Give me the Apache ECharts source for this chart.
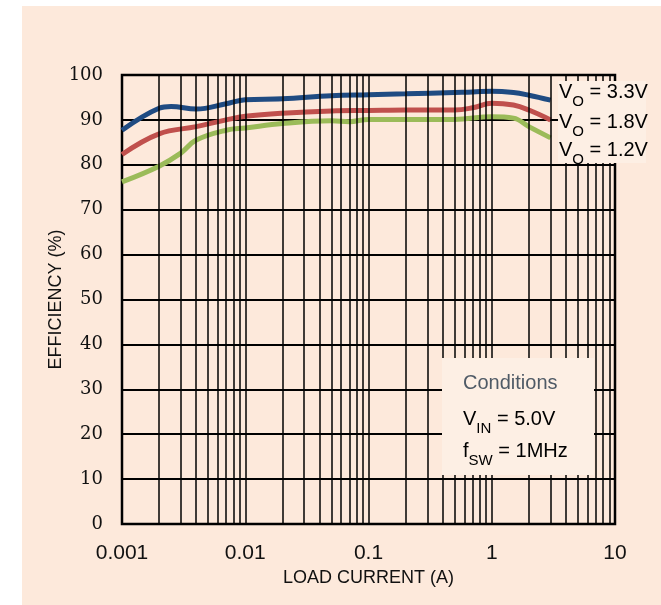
<!DOCTYPE html>
<html>
<head>
<meta charset="utf-8">
<script src="https://cdn.jsdelivr.net/npm/echarts@6/dist/echarts.min.js"></script>
<style>
  html, body { margin: 0; padding: 0; background: #fff; }
  #chart { width: 661px; height: 605px; }
</style>
</head>
<body>
<div id="chart"></div>
<script>
// 读图得到的数据 (负载电流 A / 效率 %)
var current33 = [0.001, 0.002, 0.0025, 0.004, 0.007, 0.01, 0.02, 0.05, 0.1, 0.2, 0.5, 0.7, 1, 1.5, 2, 3];
var eff33     = [87.7, 92.6, 93.0, 92.4, 93.6, 94.5, 94.7, 95.4, 95.6, 95.8, 96.1, 96.2, 96.4, 96.1, 95.5, 94.4];
var current18 = [0.001, 0.002, 0.004, 0.007, 0.01, 0.02, 0.05, 0.1, 0.2, 0.5, 0.7, 1, 1.5, 2, 3];
var eff18     = [82.3, 86.9, 88.5, 90.0, 90.8, 91.5, 92.0, 92.1, 92.2, 92.2, 92.7, 93.7, 93.3, 92.2, 90.0];
var current12 = [0.001, 0.002, 0.003, 0.004, 0.007, 0.01, 0.02, 0.05, 0.07, 0.1, 0.5, 1, 1.5, 2, 3];
var eff12     = [76.2, 79.7, 82.6, 85.5, 87.7, 88.2, 89.2, 89.8, 89.6, 90.1, 90.1, 90.7, 90.4, 88.5, 86.0];

var xTickLabels = ['0.001', '0.01', '0.1', '1', '10'];
var xGridLines = [];
[0.001, 0.01, 0.1, 1].forEach(function (d) {
  for (var k = 2; k <= 10; k++) {
    if (d * k < 10) xGridLines.push(+(d * k).toPrecision(3));
  }
});

function pairs(xs, ys) {
  return xs.map(function (x, i) { return [x, ys[i]]; });
}

var chart = echarts.init(document.getElementById('chart'));

var sansFont = 'Liberation Sans';
var noteColor = '#4f5a66';
var richV = {
  m: { fontSize: 20, fontFamily: sansFont, color: noteColor, lineHeight: 34, verticalAlign: 'middle' },
  s: { fontSize: 15, fontFamily: sansFont, color: noteColor, lineHeight: 16, verticalAlign: 'bottom' }
};

var option = {
  backgroundColor: '#ffffff',
  animation: false,
  grid: {
    left: 122, top: 75, width: 493, height: 449,
    show: true, borderColor: '#000', borderWidth: 2.5, backgroundColor: 'transparent'
  },
  xAxis: {
    type: 'log', logBase: 10, min: 0.001, max: 10,
    name: 'LOAD CURRENT (A)', nameLocation: 'middle', nameGap: 45,
    nameTextStyle: { fontFamily: sansFont, fontSize: 18, color: '#111' },
    axisLine: { show: false }, axisTick: { show: false },
    splitLine: { show: false },
    axisLabel: {
      margin: 19, fontFamily: sansFont, fontSize: 21, color: '#111',
      formatter: function (v, i) { return xTickLabels[i]; }
    }
  },
  yAxis: {
    type: 'value', min: 0, max: 100, interval: 10,
    name: 'EFFICIENCY (%)', nameLocation: 'middle', nameGap: 57, nameMoveOverlap: false,
    nameTextStyle: { fontFamily: sansFont, fontSize: 18, color: '#111' },
    axisLine: { show: false }, axisTick: { show: false },
    splitLine: { show: true, lineStyle: { color: '#000', width: 2 } },
    axisLabel: { margin: 19, fontFamily: 'DejaVu Serif', fontSize: 18, color: '#111' }
  },
  graphic: [
    { type: 'rect', z: -10, shape: { x: 22, y: 6, width: 639, height: 599 }, style: { fill: '#fde9db' } },
    { type: 'rect', z: 10, shape: { x: 558, y: 81, width: 88, height: 82 }, style: { fill: '#fdefe4' } },
    { type: 'text', z: 11, x: 559, y: 75, style: { text: '{m|V}{s|O}{m| = 3.3V}', rich: richV } },
    { type: 'text', z: 11, x: 559, y: 105, style: { text: '{m|V}{s|O}{m| = 1.8V}', rich: richV } },
    { type: 'text', z: 11, x: 559, y: 133, style: { text: '{m|V}{s|O}{m| = 1.2V}', rich: richV } },
    { type: 'rect', z: 10, shape: { x: 442, y: 358, width: 152, height: 117 }, style: { fill: '#fdefe4' } },
    { type: 'text', z: 11, x: 463, y: 373, style: { text: 'Conditions', fontSize: 20, fontFamily: sansFont, fill: noteColor } },
    { type: 'text', z: 11, x: 463, y: 402, style: { text: '{m|V}{s|IN}{m| = 5.0V}', rich: richV } },
    { type: 'text', z: 11, x: 463, y: 434, style: { text: '{m|f}{s|SW}{m| = 1MHz}', rich: richV } }
  ],
  series: [
    {
      name: 'grid', type: 'line', data: [], z: 1, silent: true,
      markLine: {
        silent: true, symbol: 'none', animation: false, precision: 6,
        label: { show: false },
        lineStyle: { color: '#000', width: 1.5, type: 'solid' },
        data: xGridLines.map(function (v) { return { xAxis: v }; })
      }
    },
    {
      name: 'VO = 3.3V', type: 'line', z: 3, smooth: 0.4, showSymbol: false,
      lineStyle: { color: '#1f4b82', width: 5 },
      data: pairs(current33, eff33)
    },
    {
      name: 'VO = 1.8V', type: 'line', z: 3, smooth: 0.4, showSymbol: false,
      lineStyle: { color: '#c0504d', width: 5 },
      data: pairs(current18, eff18)
    },
    {
      name: 'VO = 1.2V', type: 'line', z: 3, smooth: 0.4, showSymbol: false,
      lineStyle: { color: '#9bbb59', width: 5 },
      data: pairs(current12, eff12)
    }
  ]
};

chart.setOption(option);

window.onresize = function () {
  chart.resize();
};
</script>
</body>
</html>
